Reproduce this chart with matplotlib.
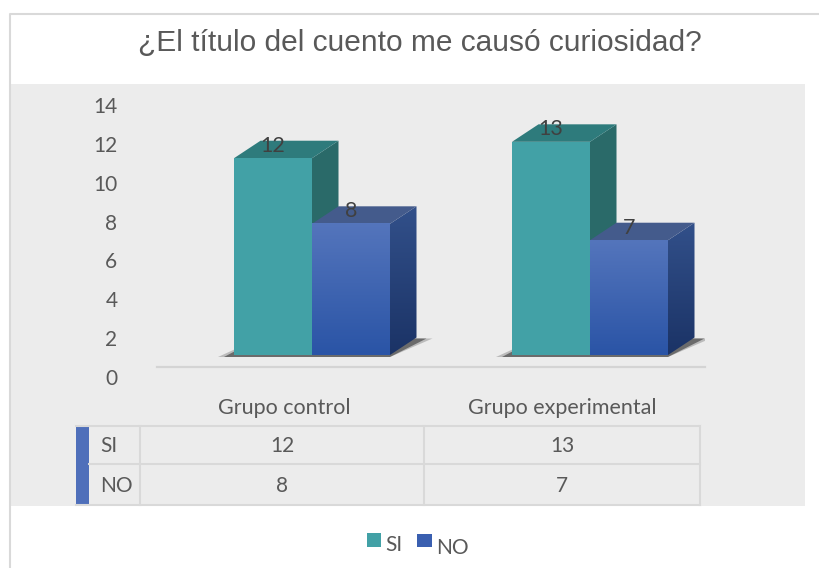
import matplotlib
matplotlib.use("agg")
import matplotlib.pyplot as plt
import numpy as np
from matplotlib.patches import Polygon, Rectangle
from matplotlib.colors import LinearSegmentedColormap

#### data ####
title = "¿El título del cuento me causó curiosidad?"
grupos = ["Grupo control", "Grupo experimental"]
series = ["SI", "NO"]
si_vals = [12, 13]
no_vals = [8, 7]
yticks = [0, 2, 4, 6, 8, 10, 12, 14]

plt.rcParams['font.family'] = ['Lato', 'DejaVu Sans']
txt = "#595959"
grid_c = "#d9d9d9"

W, H = 820, 568
fig = plt.figure(figsize=(8.2, 5.68), dpi=100)
fig.patch.set_facecolor("white")

def box(x0, y0, x1, y1):
    # pixel box (origin top-left) -> figure fraction
    return [x0 / W, 1 - y1 / H, (x1 - x0) / W, (y1 - y0) / H]

#### background layer in pixel units ####
bg = fig.add_axes([0, 0, 1, 1])
bg.set_xlim(0, W)
bg.set_ylim(H, 0)
bg.axis("off")
bg.plot([10, 10, W], [H, 14, 14], color=grid_c, lw=1.5)
bg.add_patch(Rectangle((11, 84), 794, 422, color="#ececec", lw=0))
bg.text(420, 43, title, ha="center", va="center", fontsize=21.5,
        color=txt, family="Liberation Sans")

#### 3d-ish column chart ####
ax = fig.add_axes(box(157, 105, 705, 377))
ax.set_facecolor("none")
for s in ax.spines.values():
    s.set_visible(False)

px_x = 278.0     # pixels per category
px_y = 19.43     # pixels per unit
x0_px = 284
xlim = ((157 - x0_px) / px_x, (705 - x0_px) / px_x)
bw = 78 / px_x
dx = 26.5 / px_x
dy = 17.5 / px_y
base = 22 / px_y
k = 16.4 / px_y
shift = -50 / px_x

teal = dict(front="#42a1a6", top="#2e7b7c", side="#2a6a69")
blue_front = LinearSegmentedColormap.from_list("bf", ["#2a54a6", "#5475bc"])
blue_side = LinearSegmentedColormap.from_list("bs", ["#1b3366", "#32508a"])
grad = np.linspace(0, 1, 128).reshape(-1, 1)

z = 2
for g in range(len(grupos)):
    gl = g + shift
    gr = gl + 2 * bw
    # soft base shadow, two layers
    for ext, a in [(16, 0.25), (10, 0.55)]:
        sh = Polygon([(gl - ext / px_x, base - 2 / px_y), (gr, base - 2 / px_y),
                      (gr + dx + ext / px_x, base + dy - 1 / px_y), (gl + dx, base + dy)],
                     closed=True, color="#2a2a2a", alpha=a, lw=0, zorder=z)
        ax.add_patch(sh)
    z += 1
    for si, vals in enumerate([si_vals, no_vals]):
        v = vals[g]
        left = gl + si * bw
        top = base + k * v
        side = Polygon([(left + bw, base), (left + bw + dx, base + dy),
                        (left + bw + dx, top + dy), (left + bw, top)], closed=True, lw=0)
        topf = Polygon([(left, top), (left + bw, top), (left + bw + dx, top + dy),
                        (left + dx, top + dy)], closed=True, lw=0)
        if si == 0:
            side.set_color(teal["side"]); side.set_zorder(z)
            topf.set_color(teal["top"]); topf.set_zorder(z + 1)
            ax.add_patch(side)
            ax.add_patch(topf)
            ax.add_patch(Rectangle((left, base), bw, top - base, color=teal["front"],
                                   lw=0, zorder=z + 2))
        else:
            side.set_facecolor("none"); side.set_zorder(z)
            ax.add_patch(side)
            im = ax.imshow(grad, extent=[left + bw, left + bw + dx, base, top + dy],
                           origin="lower", cmap=blue_side, aspect="auto", zorder=z)
            im.set_clip_path(side)
            topf.set_color("#445b8c"); topf.set_zorder(z + 1)
            ax.add_patch(topf)
            ax.imshow(grad, extent=[left, left + bw, base, top], origin="lower",
                      cmap=blue_front, aspect="auto", zorder=z + 2)
        ax.text(left + bw / 2, top + 0.65, str(v), ha="center", va="center",
                fontsize=15.5, color="#404040", zorder=50)
        z += 3

ax.plot(xlim, [10 / px_y, 10 / px_y], color="#d4d4d4", lw=1.6, zorder=1, clip_on=False)
ax.set_xlim(*xlim)
ax.set_ylim(0, 14)
ax.set_yticks(yticks)
ax.set_xticks(range(len(grupos)), grupos)
ax.tick_params(axis="y", length=0, pad=28.5, labelsize=15, labelcolor=txt)
ax.tick_params(axis="x", length=0, pad=15, labelsize=15.5, labelcolor=txt)

#### data table ####
cols = [140, 424, 700]
rows = [426, 464, 505]
bg.add_patch(Rectangle((76, 426), 13, 79, color="#4f6fba", lw=0))
for y in rows:
    bg.plot([76 if y != 464 else 89, 700], [y, y], color=grid_c, lw=1.5)
for x in cols:
    bg.plot([x, x], [426, 505], color=grid_c, lw=1.5)
for r, (name, vals) in enumerate(zip(series, [si_vals, no_vals])):
    yc = (rows[r] + rows[r + 1]) / 2 + 1
    bg.text(100, yc, name, ha="left", va="center", fontsize=15, color=txt)
    for c, v in enumerate(vals):
        bg.text((cols[c] + cols[c + 1]) / 2, yc, str(v), ha="center", va="center",
                fontsize=15, color=txt)

#### legend ####
bg.add_patch(Rectangle((367, 533), 14, 14, color=teal["front"], lw=0))
bg.text(385, 545, series[0], ha="left", va="center", fontsize=15, color=txt)
bg.add_patch(Rectangle((417, 534), 15, 13, color="#3a5fb0", lw=0))
bg.text(436, 548, series[1], ha="left", va="center", fontsize=15, color=txt)

fig.savefig("out.png", dpi=100)
